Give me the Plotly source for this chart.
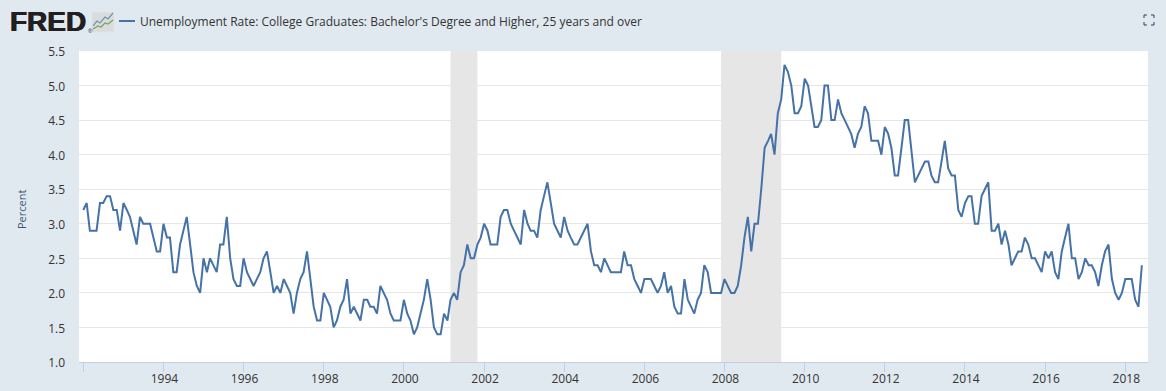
import plotly.graph_objects as go
import pandas as pd

START = "1992-01-01"
rate_1992 = [3.2,3.3,2.9,2.9,2.9,3.3,3.3,3.4,3.4,3.2,3.2,2.9]
rate_1993 = [3.3,3.2,3.1,2.9,2.7,3.1,3.0,3.0,3.0,2.8,2.6,2.6]
rate_1994 = [3.0,2.8,2.8,2.3,2.3,2.7,2.9,3.1,2.7,2.3,2.1,2.0]
rate_1995 = [2.5,2.3,2.5,2.4,2.3,2.7,2.7,3.1,2.5,2.2,2.1,2.1]
rate_1996 = [2.5,2.3,2.2,2.1,2.2,2.3,2.5,2.6,2.3,2.0,2.1,2.0]
rate_1997 = [2.2,2.1,2.0,1.7,2.0,2.2,2.3,2.6,2.2,1.8,1.6,1.6]
rate_1998 = [2.0,1.9,1.8,1.5,1.6,1.8,1.9,2.2,1.7,1.8,1.7,1.6]
rate_1999 = [1.9,1.9,1.8,1.8,1.7,2.1,2.0,1.9,1.7,1.6,1.6,1.6]
rate_2000 = [1.9,1.7,1.6,1.4,1.5,1.7,1.9,2.2,1.9,1.5,1.4,1.4]
rate_2001 = [1.7,1.6,1.9,2.0,1.9,2.3,2.4,2.7,2.5,2.5,2.7,2.8]
rate_2002 = [3.0,2.9,2.7,2.7,2.7,3.1,3.2,3.2,3.0,2.9,2.8,2.7]
rate_2003 = [3.2,3.0,2.9,2.9,2.8,3.2,3.4,3.6,3.3,3.0,2.9,2.8]
rate_2004 = [3.1,2.9,2.8,2.7,2.7,2.8,2.9,3.0,2.6,2.4,2.4,2.3]
rate_2005 = [2.5,2.4,2.3,2.3,2.3,2.3,2.6,2.4,2.4,2.2,2.1,2.0]
rate_2006 = [2.2,2.2,2.2,2.1,2.0,2.1,2.3,2.0,2.1,1.8,1.7,1.7]
rate_2007 = [2.2,1.9,1.8,1.7,1.9,2.0,2.4,2.3,2.0,2.0,2.0,2.0]
rate_2008 = [2.2,2.1,2.0,2.0,2.1,2.4,2.8,3.1,2.6,3.0,3.0,3.5]
rate_2009 = [4.1,4.2,4.3,4.0,4.6,4.8,5.3,5.2,5.0,4.6,4.6,4.7]
rate_2010 = [5.1,5.0,4.7,4.4,4.4,4.5,5.0,5.0,4.5,4.5,4.8,4.6]
rate_2011 = [4.5,4.4,4.3,4.1,4.3,4.4,4.7,4.6,4.2,4.2,4.2,4.0]
rate_2012 = [4.4,4.3,4.1,3.7,3.7,4.1,4.5,4.5,4.0,3.6,3.7,3.8]
rate_2013 = [3.9,3.9,3.7,3.6,3.6,3.9,4.2,3.8,3.7,3.7,3.2,3.1]
rate_2014 = [3.3,3.4,3.4,3.0,3.0,3.4,3.5,3.6,2.9,2.9,3.0,2.7]
rate_2015 = [2.9,2.7,2.4,2.5,2.6,2.6,2.8,2.7,2.5,2.5,2.4,2.3]
rate_2016 = [2.6,2.5,2.6,2.3,2.2,2.6,2.8,3.0,2.5,2.5,2.2,2.3]
rate_2017 = [2.5,2.4,2.4,2.3,2.1,2.4,2.6,2.7,2.2,2.0,1.9,2.0]
rate_2018 = [2.2,2.2,2.2,1.9,1.8,2.4]

values = (rate_1992+rate_1993+rate_1994+rate_1995+rate_1996+rate_1997+rate_1998+rate_1999
          +rate_2000+rate_2001+rate_2002+rate_2003+rate_2004+rate_2005+rate_2006+rate_2007
          +rate_2008+rate_2009+rate_2010+rate_2011+rate_2012+rate_2013+rate_2014+rate_2015
          +rate_2016+rate_2017+rate_2018)
dates = pd.date_range(START, periods=len(values), freq="MS")

recessions = [("2001-03-01","2001-11-01"),("2007-12-01","2009-06-01")]
x_tick_years = list(range(1992,2019,2))
x_tick_labels = [""]+[str(y) for y in x_tick_years[1:]]
y_ticks = [1.0,1.5,2.0,2.5,3.0,3.5,4.0,4.5,5.0,5.5]
SERIES = "Unemployment Rate: College Graduates: Bachelor's Degree and Higher, 25 years and over"

W,H = 1166,391
L,R,T,B = 79,1148,51,362
px = lambda x:(x-L)/(R-L)
py = lambda y:(B-y)/(B-T)
BG,INK,BLUE = "#E1E9F0","#333333","#4572A7"

def path(pts):
    return "M"+" L".join(f"{px(a):.5f},{py(b):.5f}" for a,b in pts)

shapes = [dict(type="rect",xref="x",yref="paper",x0=a,x1=b,y0=0,y1=1,fillcolor="#E6E6E6",
               line_width=0,layer="below") for a,b in recessions]
shapes.append(dict(type="line",xref="paper",yref="paper",x0=px(119),x1=px(135),y0=py(21),y1=py(21),
                   line=dict(color=BLUE,width=2)))
shapes.append(dict(type="rect",xref="paper",yref="paper",x0=px(92),x1=px(114),y0=py(32),y1=py(12),
                   fillcolor="#D9DCDC",line=dict(color="#E2E4E4",width=1)))
shapes.append(dict(type="path",xref="paper",yref="paper",
                   path=path([(93,26),(97,21),(100,23),(105,17),(108,19),(113,13)]),
                   line=dict(color="#6F94B5",width=1.2)))
shapes.append(dict(type="path",xref="paper",yref="paper",
                   path=path([(93,29),(98,26),(101,27),(105,23),(108,24),(113,20)]),
                   line=dict(color="#7FA35A",width=1.2)))
for cx,cy,dx,dy in [(1144,15,1,1),(1154,15,-1,1),(1144,25,1,-1),(1154,25,-1,-1)]:
    shapes.append(dict(type="path",xref="paper",yref="paper",
                       path=path([(cx+3*dx,cy),(cx,cy),(cx,cy+3*dy)]),
                       line=dict(color="#2A3F5F",width=1)))

annotations = [
    dict(text="<b>FRED</b>",xref="paper",yref="paper",x=px(8),y=py(21.5),xanchor="left",yanchor="middle",
         showarrow=False,font=dict(family="Liberation Sans",size=28,color="#231F20",
                                   shadow="0.5px 0 0 #231F20, -0.5px 0 0 #231F20")),
    dict(text="®",xref="paper",yref="paper",x=px(86),y=py(31),xanchor="left",yanchor="middle",
         showarrow=False,font=dict(family="Liberation Sans",size=6,color="#231F20")),
    dict(text=SERIES,xref="paper",yref="paper",x=px(138),y=py(21),xanchor="left",yanchor="middle",
         showarrow=False,font=dict(family="Open Sans",size=12,color=INK)),
    dict(text="Percent",xref="paper",yref="paper",x=px(21),y=py(210),xanchor="center",yanchor="middle",
         textangle=-90,showarrow=False,font=dict(family="Open Sans",size=11,color="#3E576F")),
]

fig = go.Figure(go.Scatter(x=dates,y=values,mode="lines",name=SERIES,
                           line=dict(color=BLUE,width=2),showlegend=False))
fig.update_layout(
    width=W,height=H,autosize=False,
    margin=dict(l=L,r=W-R,t=T,b=H-B,pad=0),
    paper_bgcolor=BG,plot_bgcolor="#FFFFFF",
    font=dict(family="Open Sans",size=12,color=INK),
    shapes=shapes,annotations=annotations,
    xaxis=dict(type="date",range=["1991-11-23","2018-07-27"],automargin=False,
               tickmode="array",tickvals=[f"{y}-01-01" for y in x_tick_years],ticktext=x_tick_labels,
               ticklabelstandoff=-3,ticklabelshift=1,
               showgrid=False,zeroline=False,ticks="outside",ticklen=9,tickwidth=1,tickcolor="#C0D0E0",
               showline=True,linecolor="#C0D0E0",linewidth=1,tickfont=dict(size=12,color=INK)),
    yaxis=dict(range=[1.0,5.5],tickmode="array",tickvals=y_ticks,ticktext=[f"{v:.1f}" for v in y_ticks],
               automargin=False,ticklabelstandoff=13,ticklabelshift=1,
               showgrid=True,gridcolor="#E6E6E6",gridwidth=1,zeroline=False,ticks="",
               tickfont=dict(size=12,color=INK)),
)
fig.write_html("out.html",config=dict(displayModeBar=False),post_script="document.body.style.margin='0';")
